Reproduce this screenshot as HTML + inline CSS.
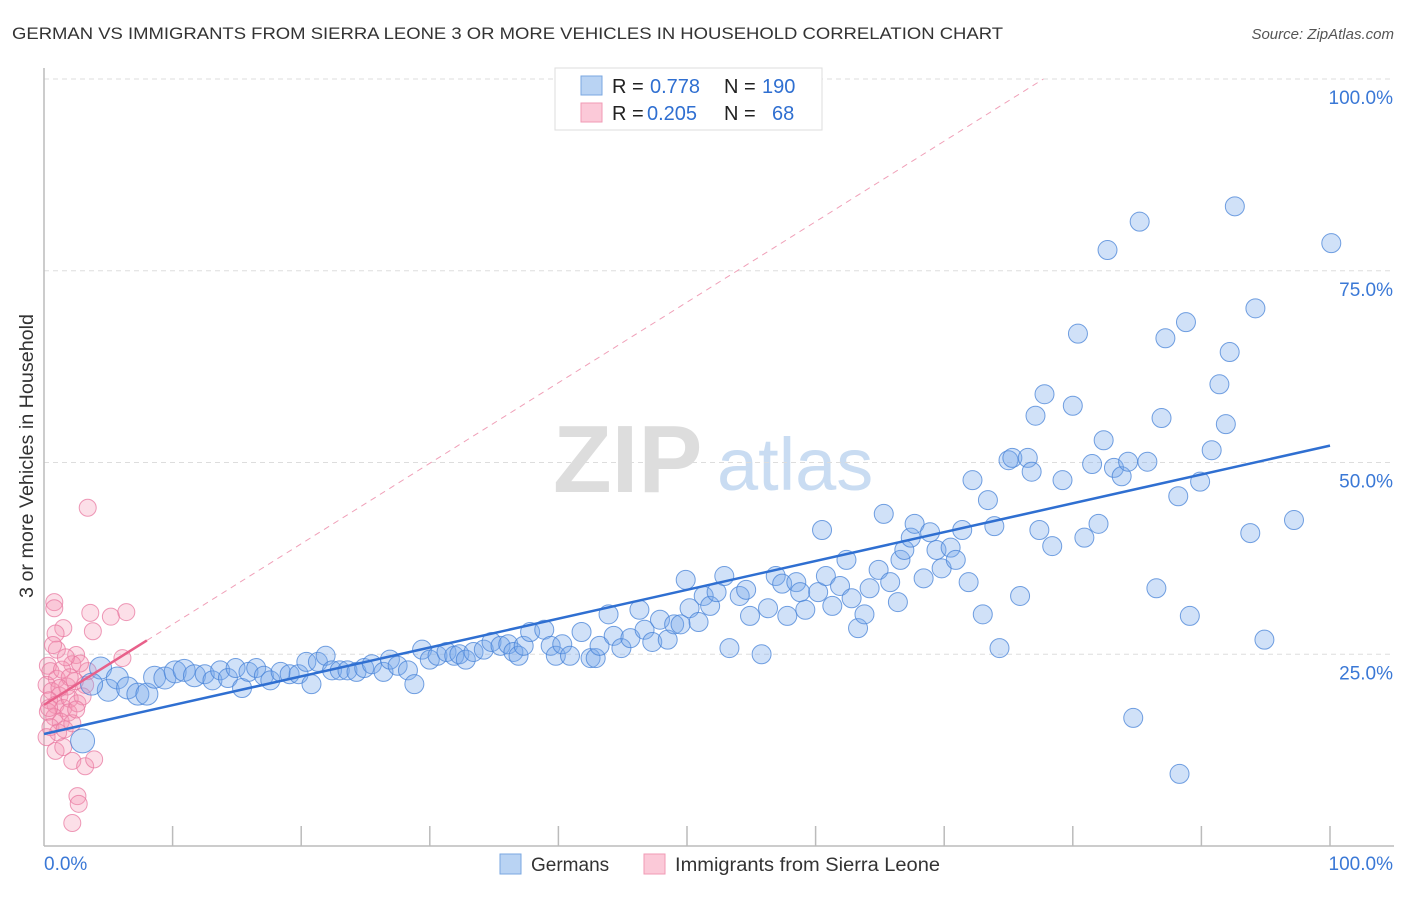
<!DOCTYPE html>
<html><head><meta charset="utf-8"><style>
body{margin:0;background:#fff;font-family:"Liberation Sans",sans-serif;}
svg text{font-family:"Liberation Sans",sans-serif;}
</style></head><body>
<svg id="chart" width="1406" height="892" xmlns="http://www.w3.org/2000/svg">
<text x="12" y="39" font-size="17" fill="#333" textLength="991" lengthAdjust="spacingAndGlyphs">GERMAN VS IMMIGRANTS FROM SIERRA LEONE 3 OR MORE VEHICLES IN HOUSEHOLD CORRELATION CHART</text>
<text x="1394" y="39" font-size="15" fill="#555" font-style="italic" text-anchor="end">Source: ZipAtlas.com</text>
<g>
<text x="553" y="492" font-size="96" fill="#ddd" font-family="Liberation Serif" font-weight="bold">ZIP</text>
<text x="717" y="490" font-size="74" fill="#c9dcf2">atlas</text>
</g>
<g id="grid"></g><g id="axes"></g><g id="pink"></g><g id="blue"></g><g id="lines"></g>
<text x="33" y="456" font-size="19" fill="#333" transform="rotate(-90 33 456)" text-anchor="middle" textLength="284" lengthAdjust="spacingAndGlyphs">3 or more Vehicles in Household</text>
<g>
<rect x="555" y="68" width="267" height="62" fill="#fff" stroke="#ddd"/>
<rect x="581" y="76" width="21" height="19" fill="#b9d3f3" stroke="#7aa7e0"/>
<rect x="581" y="103" width="21" height="19" fill="#fbc9d8" stroke="#f09ab5"/>
<text x="612" y="93" font-size="20" fill="#222">R =</text>
<text x="650" y="93" font-size="20" fill="#2f6fd1">0.778</text>
<text x="724" y="93" font-size="20" fill="#222">N =</text>
<text x="762" y="93" font-size="20" fill="#2f6fd1">190</text>
<text x="612" y="120" font-size="20" fill="#222">R =</text>
<text x="647" y="120" font-size="20" fill="#2f6fd1">0.205</text>
<text x="724" y="120" font-size="20" fill="#222">N =</text>
<text x="772" y="120" font-size="20" fill="#2f6fd1">68</text>
</g>
<g>
<rect x="500" y="854" width="21" height="20" fill="#b9d3f3" stroke="#7aa7e0"/>
<text x="531" y="871" font-size="19" fill="#333">Germans</text>
<rect x="644" y="854" width="21" height="20" fill="#fbc9d8" stroke="#f09ab5"/>
<text x="675" y="871" font-size="19" fill="#333" textLength="265" lengthAdjust="spacingAndGlyphs">Immigrants from Sierra Leone</text>
</g>
</svg>
<script>
const blueX=[3.0,4.4,5.0,3.7,5.7,6.5,7.3,8.0,8.6,9.4,10.2,10.9,11.7,12.5,13.1,13.7,14.3,14.9,15.4,15.9,16.5,17.1,17.6,18.4,19.1,19.8,20.4,20.8,21.3,21.9,22.4,23.0,23.6,24.3,24.9,25.5,26.4,26.9,27.5,28.3,28.8,29.4,30.0,30.6,31.3,31.9,32.3,32.8,33.4,34.2,34.8,35.5,36.1,36.5,36.9,37.3,37.8,38.9,39.4,39.8,40.3,40.9,41.8,42.5,42.9,43.2,43.9,44.3,44.9,45.6,46.3,46.7,47.3,47.9,48.5,49.0,49.5,49.9,50.2,50.9,51.3,51.8,52.3,52.9,53.3,54.1,54.6,54.9,55.8,56.3,56.9,57.4,57.8,58.5,58.8,59.2,60.2,60.5,60.8,61.3,61.9,62.4,62.8,63.3,63.8,64.2,64.9,65.3,65.8,66.4,66.6,66.9,67.4,67.7,68.4,68.9,69.4,69.8,70.5,70.9,71.4,71.9,72.2,73.0,73.4,73.9,74.3,75.0,75.3,75.9,76.5,76.8,77.1,77.4,77.8,78.4,79.2,80.0,80.4,80.9,81.5,82.0,82.4,82.7,83.2,83.8,84.3,84.7,85.2,85.8,86.5,86.9,87.2,88.2,88.3,88.8,89.1,89.9,90.8,91.4,91.9,92.2,92.6,93.8,94.2,94.9,97.2,100.1];
const blueY=[13.7,23.2,20.3,21.1,21.9,20.6,19.8,19.8,22.0,21.9,22.7,22.9,22.2,22.4,21.6,22.9,21.9,23.2,20.6,22.7,23.2,22.2,21.6,22.7,22.4,22.4,24.0,21.1,24.0,24.8,22.9,22.9,22.9,22.7,23.2,23.7,22.7,24.3,23.5,22.9,21.1,25.6,24.3,24.8,25.3,24.8,25.0,24.3,25.3,25.6,26.6,26.1,26.3,25.3,24.8,26.1,27.9,28.2,26.1,24.8,26.3,24.8,27.9,24.5,24.5,26.1,30.2,27.4,25.8,27.1,30.8,28.2,26.6,29.5,26.9,28.9,28.9,34.7,31.0,29.2,32.6,31.3,33.1,35.2,25.8,32.6,33.4,30.0,25.0,31.0,35.2,34.2,30.0,34.4,33.1,30.8,33.1,41.2,35.2,31.3,33.9,37.3,32.3,28.4,30.2,33.6,36.0,43.3,34.4,31.8,37.3,38.6,40.2,42.0,34.9,40.9,38.6,36.2,38.9,37.3,41.2,34.4,47.7,30.2,45.1,41.7,25.8,50.3,50.6,32.6,50.6,48.8,56.1,41.2,58.9,39.1,47.7,57.4,66.8,40.2,49.8,42.0,52.9,77.7,49.3,48.2,50.1,16.7,81.4,50.1,33.6,55.8,66.2,45.6,9.4,68.3,30.0,47.5,51.6,60.2,55.0,64.4,83.4,40.8,70.1,26.9,42.5,78.6];
const pinkX=[3.4,0.8,0.8,3.6,5.2,6.4,1.5,0.9,3.8,2.5,6.1,2.2,0.3,0.5,1.0,1.4,0.2,0.6,1.2,1.8,2.4,0.4,0.9,1.5,2.0,0.3,0.8,1.3,1.9,2.6,0.5,1.1,0.2,1.6,2.2,3.0,3.4,2.8,1.0,1.7,0.7,2.0,1.2,0.4,3.2,2.5,0.9,1.5,2.2,3.2,3.9,2.6,2.7,2.2];
const pinkY=[44.1,31.8,31.0,30.4,29.9,30.5,28.4,27.7,28.0,24.9,24.5,23.7,23.5,22.8,21.8,23.0,21.0,20.2,19.6,20.8,21.5,19.0,18.4,18.0,19.2,17.5,16.8,16.2,17.4,18.6,15.5,14.8,14.2,15.2,16.0,19.5,22.8,23.8,25.6,24.6,26.2,22.0,20.6,18.0,21.0,17.8,12.4,12.9,11.1,10.4,11.3,6.5,5.5,3.0];
const blueTrend=[14.6,52.2];   // y at x=0, x=100
const pinkTrend=[18.4,26.8];   // y at x=0, x=8
const yTicks=[25,50,75,100];
const yTickLabels=["25.0%","50.0%","75.0%","100.0%"];

const X0=44,X1=1330,Y0=846,Y1=79;
const sx=v=>X0+(X1-X0)*v/100, sy=v=>Y0-(Y0-Y1)*v/100;
const NS="http://www.w3.org/2000/svg";
function mk(tag,attrs,parent){const e=document.createElementNS(NS,tag);for(const k in attrs)e.setAttribute(k,attrs[k]);parent.appendChild(e);return e;}
const grid=document.getElementById('grid'),axes=document.getElementById('axes');
yTicks.forEach((t,i)=>{
  const l=mk('line',{x1:X0,x2:1394,y1:sy(t),y2:sy(t),stroke:'#ddd','stroke-dasharray':'5,4'},grid);
  
  
  const tx=mk('text',{x:1393,y:sy(t)+25,'font-size':19,fill:'#3a78d6','text-anchor':'end'},axes);
  tx.textContent=yTickLabels[i];
  
  
});
const ya=mk('line',{x1:X0,x2:X0,y1:68,y2:Y0,stroke:'#bbb','stroke-width':1.5},axes);


const xa=mk('line',{x1:X0,x2:1394,y1:Y0,y2:Y0,stroke:'#bbb','stroke-width':1.5},axes);


for(let i=1;i<=10;i++){const t=mk('line',{x1:sx(i*10),x2:sx(i*10),y1:826,y2:Y0,stroke:'#bbb','stroke-width':1.5},axes);
  
  }
const xl0=mk('text',{x:44,y:870,'font-size':19,fill:'#3a78d6'},axes);xl0.textContent='0.0%';


const xl1=mk('text',{x:1393,y:870,'font-size':19,fill:'#3a78d6','text-anchor':'end'},axes);xl1.textContent='100.0%';



const pg=document.getElementById('pink');
pinkX.forEach((x,i)=>{const c=mk('circle',{cx:sx(x),cy:sy(pinkY[i]),r:8.5,fill:'rgba(245,150,180,0.3)',stroke:'rgba(232,120,160,0.75)','stroke-width':1},pg);
  
  });
const bg=document.getElementById('blue');
blueX.forEach((x,i)=>{const r=i==0?12:(x<12?11:9.5);
  const c=mk('circle',{cx:sx(x),cy:sy(blueY[i]),r:r,fill:'rgba(120,170,235,0.35)',stroke:'rgba(70,130,215,0.75)','stroke-width':1},bg);
  
  });
const lg=document.getElementById('lines');
const slope=(pinkTrend[1]-pinkTrend[0])/8;
const xEnd=(100-pinkTrend[0])/slope;
const dl=mk('line',{x1:sx(8),y1:sy(pinkTrend[1]),x2:sx(xEnd),y2:sy(100),stroke:'#f0a0b8','stroke-width':1,'stroke-dasharray':'6,5'},lg);


const pl=mk('line',{x1:sx(0),y1:sy(pinkTrend[0]),x2:sx(8),y2:sy(pinkTrend[1]),stroke:'#e8608a','stroke-width':2.5},lg);


const bl=mk('line',{x1:sx(0),y1:sy(blueTrend[0]),x2:sx(100),y2:sy(blueTrend[1]),stroke:'#2f6fd1','stroke-width':2.5},lg);


</script>
</body></html>
